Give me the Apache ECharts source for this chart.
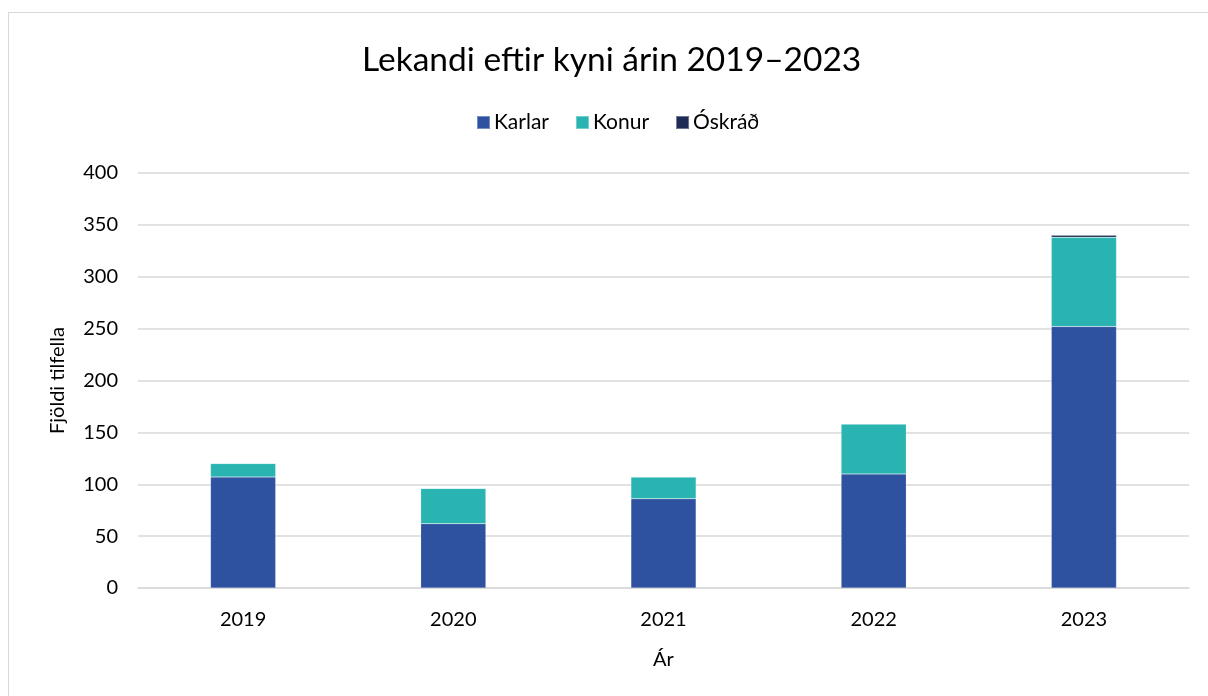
<!DOCTYPE html>
<html>
<head>
<meta charset="utf-8">
<script src="https://cdn.jsdelivr.net/npm/echarts@6/dist/echarts.min.js"></script>
<style>
  html, body { margin: 0; padding: 0; background: #fff; overflow: hidden; }
  #frame { position: absolute; left: 8px; top: 12px; width: 1230px; height: 720px; border: 1.5px solid #d9d9d9; }
  #chart { position: absolute; left: 0; top: 0; width: 1208px; height: 696px; }
</style>
</head>
<body>
<div id="frame"></div>
<div id="chart"></div>
<script>
const years = ['2019', '2020', '2021', '2022', '2023'];
const karlar = [107, 62, 86, 110, 252];
const konur = [13, 34, 21, 48, 86];
const oskrad = [0, 0, 0, 0, 2];
const yTicks = { min: 0, max: 400, interval: 50 };

const font = 'Lato, "Open Sans", sans-serif';
const mychart = echarts.init(document.getElementById('chart'));

function barSeries(name, values, color) {
    return {
        name: name,
        type: 'bar',
        stack: 'total',
        data: values,
        barWidth: '31%',
        itemStyle: {
            color: color,
            borderColor: 'rgba(255,255,255,0.35)',
            borderWidth: 0.5
        }
    };
}

let chartOption = {
    animation: false,
    textStyle: { fontFamily: font },
    title: {
        text: 'Lekandi eftir kyni árin 2019–2023',
        left: 357,
        top: 38,
        textStyle: { fontSize: 33.5, fontWeight: 'normal', color: '#000', fontFamily: font }
    },
    legend: {
        data: ['Karlar', 'Konur', 'Óskráð'],
        top: 107,
        left: 471,
        itemWidth: 13,
        itemHeight: 13,
        itemGap: 26,
        icon: 'rect',
        textStyle: { fontSize: 21, color: '#000', fontFamily: font, padding: [0, 0, 0, -1] }
    },
    grid: { left: 138, right: 19, top: 173, bottom: 108 },
    xAxis: {
        type: 'category',
        data: years,
        name: 'Ár',
        nameLocation: 'middle',
        nameGap: 62,
        nameTextStyle: { fontSize: 20, color: '#000' },
        axisLine: { lineStyle: { color: '#d9d9d9', width: 1.5 } },
        axisTick: { show: false },
        axisLabel: { fontSize: 20, color: '#000', margin: 22 }
    },
    yAxis: {
        type: 'value',
        min: yTicks.min,
        max: yTicks.max,
        interval: yTicks.interval,
        name: 'Fjöldi tilfella',
        nameLocation: 'middle',
        nameGap: 70,
        nameTextStyle: { fontSize: 20, color: '#000' },
        axisLine: { show: false },
        axisTick: { show: false },
        axisLabel: { fontSize: 20, color: '#000', margin: 20 },
        splitLine: { lineStyle: { color: '#d9d9d9', width: 1.5 } }
    },
    series: [
        barSeries('Karlar', karlar, '#2e52a0'),
        barSeries('Konur', konur, '#29b4b2'),
        barSeries('Óskráð', oskrad, '#1f2a55')
    ]
};

mychart.setOption(chartOption);
</script>
</body>
</html>
